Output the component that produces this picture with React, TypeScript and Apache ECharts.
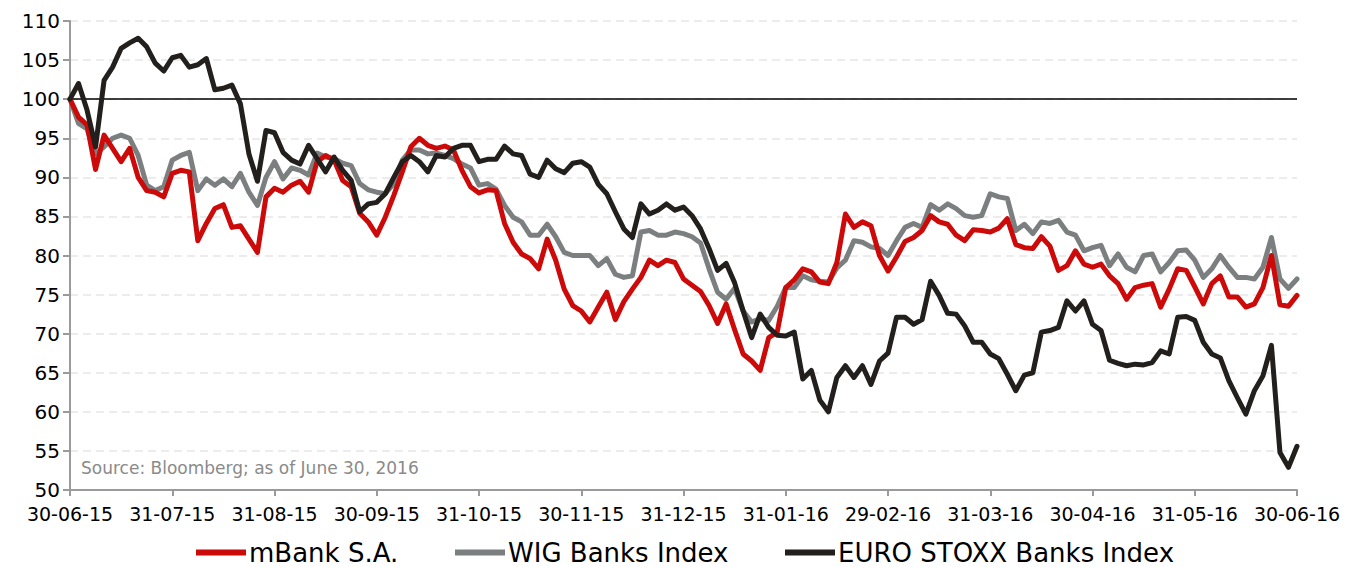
import React, { useEffect, useRef } from "react";
import * as echarts from "echarts";

const tickLabels = [
  "30-06-15", "31-07-15", "31-08-15", "30-09-15", "31-10-15", "30-11-15", "31-12-15",
  "31-01-16", "29-02-16", "31-03-16", "30-04-16", "31-05-16", "30-06-16",
];
const POINTS_PER_MONTH = 12;

const seriesNames = ["mBank S.A.", "WIG Banks Index", "EURO STOXX Banks Index"];

const mbank = [
  100, 97.7, 96.7, 91.0, 95.4, 93.7, 92.0, 93.7, 90.0, 88.3, 88.1, 87.5,
  90.5, 90.9, 90.7, 81.9, 84.1, 86.0, 86.5, 83.6, 83.8, 82.1, 80.4, 87.5,
  88.6, 88.1, 89.0, 89.5, 88.1, 92.0, 92.8, 92.2, 89.6, 88.8, 85.4, 84.3,
  82.6, 84.9, 87.7, 90.7, 93.9, 95.0, 94.1, 93.7, 94.0, 93.5, 90.9, 88.8,
  88.0, 88.4, 88.3, 84.1, 81.7, 80.2, 79.6, 78.3, 82.1, 79.4, 75.7, 73.6,
  72.9, 71.5, 73.4, 75.3, 71.8, 74.1, 75.7, 77.2, 79.4, 78.7, 79.4, 79.1,
  77.0, 76.2, 75.4, 73.6, 71.3, 73.8, 70.5, 67.4, 66.5, 65.3, 69.5, 70.2,
  75.9, 76.9, 78.3, 77.9, 76.6, 76.4, 79.1, 85.3, 83.6, 84.3, 83.8, 80.0,
  78.0, 79.8, 81.8, 82.3, 83.2, 85.1, 84.3, 84.0, 82.6, 81.9, 83.3, 83.2,
  83.0, 83.5, 84.7, 81.4, 81.0, 80.9, 82.4, 81.2, 78.1, 78.7, 80.6, 78.9,
  78.5, 78.9, 77.4, 76.4, 74.4, 75.9, 76.2, 76.4, 73.4, 75.7, 78.3, 78.1,
  76.0, 73.8, 76.4, 77.4, 74.7, 74.7, 73.4, 73.8, 75.9, 80.0, 73.7, 73.5,
  74.9,
];

const wig = [
  100, 96.9, 96.2, 93.0, 93.9, 95.0, 95.4, 95.0, 92.8, 89.0, 88.3, 88.8,
  92.2, 92.8, 93.2, 88.3, 89.8, 89.0, 89.8, 88.8, 90.5, 88.1, 86.4, 90.0,
  92.0, 89.8, 91.2, 90.9, 90.3, 93.1, 92.6, 92.4, 91.8, 91.5, 89.2, 88.4,
  88.1, 87.9, 89.2, 92.2, 93.5, 93.5, 93.0, 93.1, 92.8, 92.4, 91.7, 91.2,
  89.0, 89.2, 88.5, 86.4, 84.9, 84.3, 82.6, 82.6, 84.0, 82.4, 80.4, 80.0,
  80.0, 80.0, 78.7, 79.6, 77.6, 77.2, 77.4, 83.0, 83.2, 82.6, 82.6, 83.0,
  82.8, 82.4, 81.6, 78.3, 75.3, 74.4, 75.8, 72.9, 71.5, 71.9, 71.7, 73.5,
  75.9, 75.9, 77.4, 76.9, 76.7, 76.6, 78.4, 79.4, 81.9, 81.7, 81.1, 80.9,
  80.0, 81.9, 83.6, 84.1, 83.6, 86.5, 85.8, 86.6, 86.0, 85.1, 84.9, 85.1,
  87.9, 87.5, 87.3, 83.2, 84.0, 82.8, 84.3, 84.1, 84.5, 83.0, 82.6, 80.6,
  81.0, 81.3, 78.7, 80.2, 78.5, 77.9, 80.0, 80.2, 77.9, 79.1, 80.6, 80.7,
  79.4, 77.2, 78.3, 80.0, 78.5, 77.2, 77.2, 77.0, 78.5, 82.3, 77.0, 75.8,
  77.0,
];

const stoxx = [
  100, 102.0, 98.6, 93.9, 102.4, 104.1, 106.5, 107.2, 107.8, 106.7, 104.6, 103.6,
  105.3, 105.6, 104.1, 104.4, 105.2, 101.2, 101.4, 101.8, 99.4, 93.0, 89.5, 96.0,
  95.7, 93.2, 92.2, 91.7, 94.1, 92.4, 90.7, 92.6, 90.9, 89.6, 85.6, 86.6,
  86.8, 87.9, 90.0, 92.0, 92.8, 92.0, 90.7, 92.8, 92.6, 93.7, 94.1, 94.1,
  92.0, 92.3, 92.3, 94.0, 93.0, 92.8, 90.4, 90.0, 92.2, 91.1, 90.6, 91.8,
  92.0, 91.3, 89.1, 87.9, 85.6, 83.4, 82.3, 86.6, 85.3, 85.8, 86.6, 85.8,
  86.2, 85.1, 83.4, 80.9, 78.1, 79.0, 76.5, 72.9, 69.5, 72.5, 70.8, 69.8,
  69.7, 70.2, 64.2, 65.3, 61.5, 60.0, 64.4, 65.9, 64.4, 65.9, 63.5, 66.5,
  67.5, 72.1, 72.1, 71.2, 71.8, 76.7, 74.9, 72.6, 72.5, 71.0, 68.9, 68.9,
  67.4, 66.8, 64.8, 62.7, 64.7, 65.0, 70.2, 70.4, 70.8, 74.2, 72.9, 74.2,
  71.2, 70.4, 66.6, 66.2, 65.9, 66.1, 66.0, 66.3, 67.8, 67.4, 72.1, 72.2,
  71.7, 68.9, 67.4, 66.9, 64.0, 61.8, 59.7, 62.7, 64.6, 68.5, 54.8, 52.9,
  55.6,
];

const Y_MIN = 50;
const Y_MAX = 110;
const Y_STEP = 5;
const REFERENCE_LEVEL = 100;
const sourceNote = "Source: Bloomberg; as of June 30, 2016";

const colors = ["#cc0a0a", "#7c7f80", "#221f1c"];
const legendLefts = [196, 455, 785];

export default function App() {
  const ref = useRef<HTMLDivElement>(null);

  useEffect(() => {
    document.body.style.margin = "0";
    if (!ref.current) return;
    const chart = echarts.init(ref.current, null, { renderer: "svg" });
    const categories = mbank.map((_, i) =>
      i % POINTS_PER_MONTH === 0 ? tickLabels[i / POINTS_PER_MONTH] : "p" + i
    );
    const isTick = (i: number) => i % POINTS_PER_MONTH === 0;
    const font = "DejaVu Sans";

    const mkSeries = (name: string, data: number[], color: string, z: number, extra: any = {}) => ({
      name,
      type: "line",
      data,
      color,
      z,
      symbol: "none",
      smooth: false,
      lineStyle: { color, width: 5, join: "round", cap: "round" },
      ...extra,
    });

    chart.setOption({
      animation: false,
      backgroundColor: "#ffffff",
      grid: { left: 70, right: 58, top: 21, bottom: 77, containLabel: false },
      legend: seriesNames.map((name, k) => ({
        data: [name],
        top: 539,
        left: legendLefts[k],
        icon: "rect",
        itemWidth: 50,
        itemHeight: 6,
        padding: 0,
        textStyle: { fontSize: 26, fontFamily: font, color: "#000", lineHeight: 27, padding: [0, 0, 0, -2] },
      })),
      xAxis: {
        type: "category",
        data: categories,
        boundaryGap: false,
        axisLine: { lineStyle: { color: "#9a9a9a", width: 2 } },
        axisTick: {
          show: true,
          interval: (i: number) => isTick(i),
          length: 6,
          lineStyle: { color: "#9a9a9a", width: 2 },
        },
        axisLabel: {
          interval: (i: number) => isTick(i),
          color: "#000",
          fontSize: 19,
          lineHeight: 20,
          fontFamily: font,
          margin: 14,
        },
        splitLine: { show: false },
      },
      yAxis: {
        type: "value",
        min: Y_MIN,
        max: Y_MAX,
        interval: Y_STEP,
        axisLine: { show: true, lineStyle: { color: "#9a9a9a", width: 2 } },
        axisTick: { show: true, length: 7, lineStyle: { color: "#9a9a9a", width: 2 } },
        axisLabel: { color: "#000", fontSize: 20, lineHeight: 20, fontFamily: font, margin: 10 },
        splitLine: { show: true, lineStyle: { color: "#e6e6e6", width: 1.5, type: [8, 5] } },
      },
      graphic: [
        {
          type: "text",
          left: 81,
          top: 459,
          style: { text: sourceNote, fill: "#8a8a8a", font: `17px "${font}"` },
        },
      ],
      series: [
        mkSeries(seriesNames[0], mbank, colors[0], 3, {
          markLine: {
            silent: true,
            symbol: ["none", "none"],
            label: { show: false },
            lineStyle: { color: "#000", width: 1.5, type: "solid" },
            data: [{ yAxis: REFERENCE_LEVEL }],
            z: 1,
          },
        }),
        mkSeries(seriesNames[1], wig, colors[1], 2),
        mkSeries(seriesNames[2], stoxx, colors[2], 4),
      ],
    });

    return () => chart.dispose();
  }, []);

  return <div ref={ref} style={{ width: 1355, height: 567 }} />;
}
